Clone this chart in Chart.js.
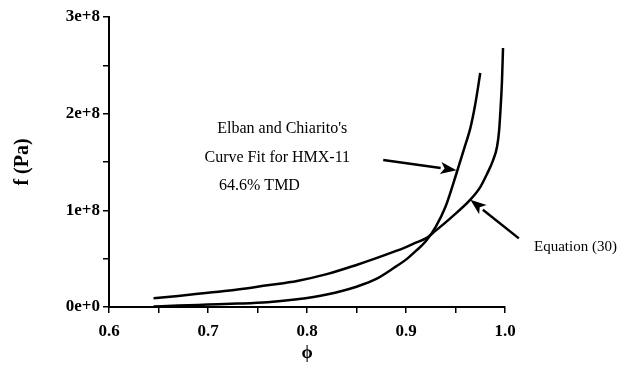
<!doctype html>
<html>
<head>
<meta charset="utf-8">
<title>f vs phi</title>
<script src="https://cdn.jsdelivr.net/npm/chart.js@4/dist/chart.umd.min.js"></script>
<style>
	body { margin: 0; background: #fff; }
	#holder { width: 623px; height: 368px; }
</style>
</head>
<body>
<div id="holder"><canvas id="chart" width="623" height="368"></canvas></div>
<script>
// Equation (30): starts at 64.6% TMD
var phiEq = [0.645, 0.67, 0.70, 0.73, 0.76, 0.79, 0.82, 0.85, 0.87, 0.89, 0.90, 0.91, 0.92, 0.93, 0.945, 0.965, 0.975, 0.982, 0.988, 0.992, 0.994, 0.9955, 0.997, 0.998];
var fEq = [0.09e8, 0.115e8, 0.148e8, 0.18e8, 0.225e8, 0.27e8, 0.34e8, 0.435e8, 0.505e8, 0.58e8, 0.62e8, 0.665e8, 0.71e8, 0.79e8, 0.92e8, 1.11e8, 1.24e8, 1.38e8, 1.52e8, 1.66e8, 1.82e8, 2.05e8, 2.35e8, 2.68e8];

// Elban and Chiarito's curve fit for HMX-11
var phiElban = [0.645, 0.67, 0.70, 0.73, 0.76, 0.79, 0.82, 0.85, 0.87, 0.89, 0.90, 0.91, 0.92, 0.93, 0.94, 0.95, 0.96, 0.965, 0.97, 0.975];
var fElban = [0.005e8, 0.015e8, 0.025e8, 0.035e8, 0.05e8, 0.08e8, 0.13e8, 0.21e8, 0.29e8, 0.42e8, 0.49e8, 0.58e8, 0.68e8, 0.83e8, 1.04e8, 1.35e8, 1.68e8, 1.85e8, 2.1e8, 2.42e8];

var xMin = 0.6, xMax = 1.0, xStep = 0.05;
var yMin = 0, yMax = 3e8, yStep = 0.5e8;

function pts(xs, ys) {
	return xs.map(function (x, i) { return { x: x, y: ys[i] }; });
}

// text labels and arrows, placed in data units
var notes = [
	{ text: "Elban and Chiarito's", x: 0.775, y: 1.84e8, size: 16 },
	{ text: 'Curve Fit for HMX-11', x: 0.77, y: 1.54e8, size: 16 },
	{ text: '64.6% TMD', x: 0.752, y: 1.25e8, size: 16 },
	{ text: 'Equation (30)', x: 1.0712, y: 0.62e8, size: 15 }
];
var arrows = [
	{ x0: 0.877, y0: 1.52e8, x1: 0.951, y1: 1.415e8 },
	{ x0: 1.014, y0: 0.71e8, x1: 0.965, y1: 1.11e8 }
];

var notesPlugin = {
	id: 'notes',
	afterDraw: function (chart) {
		var ctx = chart.ctx, xs = chart.scales.x, ys = chart.scales.y;
		ctx.save();
		ctx.fillStyle = '#000';
		ctx.textAlign = 'center';
		ctx.textBaseline = 'middle';
		notes.forEach(function (n) {
			ctx.font = n.size + 'px "Liberation Serif", serif';
			ctx.fillText(n.text, xs.getPixelForValue(n.x), ys.getPixelForValue(n.y));
		});
		arrows.forEach(function (a) {
			var x0 = xs.getPixelForValue(a.x0), y0 = ys.getPixelForValue(a.y0);
			var x1 = xs.getPixelForValue(a.x1), y1 = ys.getPixelForValue(a.y1);
			var ang = Math.atan2(y1 - y0, x1 - x0);
			var len = 16, half = 6;
			var bx = x1 - len * Math.cos(ang), by = y1 - len * Math.sin(ang);
			ctx.strokeStyle = '#000';
			ctx.lineWidth = 2.5;
			ctx.beginPath();
			ctx.moveTo(x0, y0);
			ctx.lineTo(bx, by);
			ctx.stroke();
			ctx.beginPath();
			ctx.moveTo(x1, y1);
			ctx.lineTo(bx + half * Math.sin(ang), by - half * Math.cos(ang));
			ctx.lineTo(bx + 4 * Math.cos(ang), by + 4 * Math.sin(ang));
			ctx.lineTo(bx - half * Math.sin(ang), by + half * Math.cos(ang));
			ctx.closePath();
			ctx.fill();
		});
		ctx.restore();
	}
};

var tickFont = { family: '"Liberation Serif", serif', size: 17, weight: 'bold' };

var config = {
	type: 'scatter',
	data: {
		datasets: [{
			label: 'Equation (30)',
			data: pts(phiEq, fEq),
			showLine: true,
			borderColor: '#000',
			borderWidth: 2.5,
			pointRadius: 0,
			cubicInterpolationMode: 'monotone'
		}, {
			label: "Elban and Chiarito's Curve Fit",
			data: pts(phiElban, fElban),
			showLine: true,
			borderColor: '#000',
			borderWidth: 2.5,
			pointRadius: 0,
			cubicInterpolationMode: 'monotone'
		}]
	},
	options: {
		responsive: false,
		animation: false,
		layout: { padding: { left: 0, right: 118, top: 17, bottom: 0 } },
		plugins: { legend: { display: false }, tooltip: { enabled: false } },
		scales: {
			x: {
				type: 'linear',
				min: xMin,
				max: xMax,
				border: { color: '#000', width: 2 },
				grid: { drawOnChartArea: false, drawTicks: true, tickLength: 6, color: '#000', lineWidth: 1.5 },
				ticks: {
					stepSize: xStep,
					autoSkip: false,
					maxRotation: 0,
					color: '#000',
					font: tickFont,
					padding: 8,
					callback: function (v) {
						var t = Math.round(v * 10);
						return Math.abs(t - v * 10) < 1e-6 ? (t / 10).toFixed(1) : '';
					}
				},
				title: {
					display: true,
					text: 'ϕ',
					color: '#000',
					font: { family: '"Liberation Serif", serif', size: 18, weight: 'bold' },
					padding: { top: 0, bottom: 4 }
				},
				afterFit: function (scale) { scale.height = 61; }
			},
			y: {
				type: 'linear',
				min: yMin,
				max: yMax,
				border: { color: '#000', width: 2 },
				grid: { drawOnChartArea: false, drawTicks: true, tickLength: 6, color: '#000', lineWidth: 1.5 },
				ticks: {
					stepSize: yStep,
					autoSkip: false,
					color: '#000',
					font: tickFont,
					padding: 3,
					callback: function (v) {
						var n = v / 1e8;
						if (Math.abs(n - Math.round(n)) > 1e-6) return '';
						n = Math.round(n);
						return n === 0 ? '0e+0' : n + 'e+8';
					}
				},
				title: {
					display: true,
					text: 'f (Pa)',
					color: '#000',
					font: { family: '"Liberation Serif", serif', size: 20, weight: 'bold' },
					padding: { top: 11, bottom: 0 }
				},
				afterFit: function (scale) { scale.width = 109; }
			}
		}
	},
	plugins: [notesPlugin]
};

window.onload = function () {
	var ctx = document.getElementById('chart').getContext('2d');
	window.myChart = new Chart(ctx, config);
};
</script>
</body>
</html>
